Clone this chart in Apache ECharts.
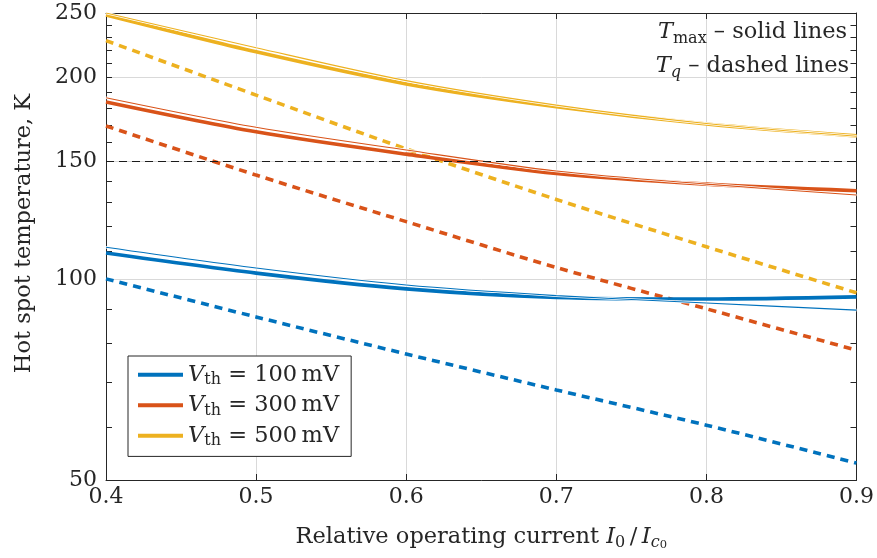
<!DOCTYPE html>
<html>
<head>
<meta charset="utf-8">
<script src="https://cdn.jsdelivr.net/npm/echarts@6/dist/echarts.min.js"></script>
<style>
  html, body { margin: 0; padding: 0; background: #fff; }
  #chart { width: 877px; height: 558px; }
</style>
</head>
<body>
<div id="chart"></div>
<script>
// Relative operating current I0/Ic0
const currents = [0.4, 0.5, 0.6, 0.7, 0.8, 0.9];

// Hot spot maximum temperature T_max (thick solid), K
const tmax100 = [109.3, 102.0, 96.6, 93.8, 93.3, 94.0];
const tmax300 = [184.0, 166.0, 153.7, 143.8, 138.6, 135.5];
const tmax500 = [248.3, 218.7, 195.8, 181.0, 170.5, 163.7];

// Companion T_max estimate (thin solid), K
const tmaxEst100 = [111.5, 103.8, 97.9, 94.4, 92.0, 89.8];
const tmaxEst300 = [186.7, 168.6, 155.9, 145.0, 138.6, 133.5];
const tmaxEst500 = [250.0, 221.8, 198.0, 182.0, 170.8, 163.5];

// Quench temperature T_q (dashed), K
const tq100 = [100.0, 87.7, 77.2, 68.2, 60.4, 53.0];
const tq300 = [169.4, 143.0, 121.8, 104.0, 90.2, 78.2];
const tq500 = [227.3, 188.4, 156.5, 131.5, 111.7, 95.3];

// Threshold voltages and their colours
const thresholds = [100, 300, 500];
const colors = ['#0072BD', '#D95319', '#EDB120'];

// Axis ticks
const xTicks = [0.4, 0.5, 0.6, 0.7, 0.8, 0.9];
const yLabels = [50, 100, 150, 200, 250];
const yTicks = [50, 60, 70, 80, 90, 100, 110, 120, 130, 140, 150, 160, 170, 180, 190, 200, 210, 220, 230, 240, 250];
const yGrid = [100, 150, 200];
const referenceTemp = 150;

const FONT = 'DejaVu Serif';
const INK = '#262626';
const FS = 22.5;   // main text size
const FSUB = 16;   // subscript size

const tmaxSets = [tmax100, tmax300, tmax500];
const estSets = [tmaxEst100, tmaxEst300, tmaxEst500];
const tqSets = [tq100, tq300, tq500];

const pairs = arr => currents.map((x, i) => [x, arr[i]]);
const legendName = v => 'Vth = ' + v + ' mV';

const series = [];
// dashed T_q curves
tqSets.forEach((arr, k) => {
  const s = {
    name: 'Tq ' + thresholds[k],
    type: 'line', data: pairs(arr), smooth: 0.3, showSymbol: false, symbol: 'none',
    lineStyle: { color: colors[k], width: 3.6, type: [8, 6], cap: 'butt' },
    itemStyle: { color: colors[k] }, silent: true
  };
  if (k === 0) {
    s.markLine = {
      silent: true, symbol: 'none', label: { show: false },
      lineStyle: { color: '#1a1a1a', width: 1, type: [8, 5] },
      data: [{ yAxis: referenceTemp }]
    };
  }
  series.push(s);
});
// thick solid T_max curves
tmaxSets.forEach((arr, k) => {
  series.push({
    name: legendName(thresholds[k]),
    type: 'line', data: pairs(arr), smooth: 0.3, showSymbol: false, symbol: 'none',
    lineStyle: { color: colors[k], width: 3.6 },
    itemStyle: { color: colors[k] }, silent: true
  });
});
// white halo beneath the thin curves
estSets.forEach((arr, k) => {
  series.push({
    name: 'halo ' + thresholds[k],
    type: 'line', data: pairs(arr), smooth: 0.3, showSymbol: false, symbol: 'none',
    lineStyle: { color: '#ffffff', width: 2.6 }, silent: true
  });
});
// thin solid T_max estimates
estSets.forEach((arr, k) => {
  series.push({
    name: 'est ' + thresholds[k],
    type: 'line', data: pairs(arr), smooth: 0.3, showSymbol: false, symbol: 'none',
    lineStyle: { color: colors[k], width: 1.1 },
    itemStyle: { color: colors[k] }, silent: true
  });
});

const baseY = {
  type: 'log', logBase: 10, min: 50, max: 250,
  axisLine: { show: false },
  axisLabel: { show: false },
  axisTick: { show: false },
  splitLine: { show: false }
};

const subRich = {
  r: { fontFamily: FONT, fontSize: FS, color: INK, lineHeight: 28 },
  i: { fontFamily: FONT, fontStyle: 'italic', fontSize: FS, color: INK, lineHeight: 28 },
  s: { fontFamily: FONT, fontSize: FSUB, color: INK, lineHeight: 16, verticalAlign: 'bottom' },
  si: { fontFamily: FONT, fontStyle: 'italic', fontSize: FSUB, color: INK, lineHeight: 16, verticalAlign: 'bottom' },
  ss: { fontFamily: FONT, fontSize: 11.5, color: INK, lineHeight: 7, verticalAlign: 'bottom' }
};
const graphicRich = {};
Object.keys(subRich).forEach(key => {
  const st = Object.assign({}, subRich[key]);
  st.fill = st.color; delete st.color;
  graphicRich[key] = st;
});

const chart = echarts.init(document.getElementById('chart'), null, { renderer: 'canvas' });
chart.setOption({
  animation: false,
  backgroundColor: '#ffffff',
  textStyle: { fontFamily: FONT, color: INK },
  grid: { left: 106, right: 18, top: 13, bottom: 78, containLabel: false },
  xAxis: [
    {
      type: 'value', min: 0.4, max: 0.9, interval: 0.1, position: 'bottom',
      axisLine: { show: true, lineStyle: { color: INK, width: 1 } },
      axisTick: { show: true, inside: true, length: 6, lineStyle: { color: INK } },
      axisLabel: { fontFamily: FONT, fontSize: 22, color: INK, margin: 6,
                   formatter: v => v.toFixed(1) },
      splitLine: { show: true, lineStyle: { color: '#d9d9d9', width: 1 } },
      name: '{r|Relative operating current }{i|I}{s|0}{r|\u2009/\u2009}{i|I}{si|c}{ss|0}',
      nameLocation: 'middle', nameGap: 43,
      nameTextStyle: { fontFamily: FONT, fontSize: FS, color: INK, rich: subRich }
    },
    {
      type: 'value', min: 0.4, max: 0.9, interval: 0.1, position: 'top',
      axisLine: { show: true, lineStyle: { color: INK, width: 1 } },
      axisTick: { show: true, inside: true, length: 6, lineStyle: { color: INK } },
      axisLabel: { show: false },
      splitLine: { show: false }
    }
  ],
  yAxis: [
    {
      type: 'log', logBase: 10, min: 50, max: 250, position: 'left',
      axisLine: { show: true, lineStyle: { color: INK, width: 1 } },
      axisTick: { show: true, inside: true, length: 6, customValues: yTicks, lineStyle: { color: INK } },
      axisLabel: { show: true, customValues: yLabels, fontFamily: FONT, fontSize: 22, color: INK, margin: 9,
                   formatter: v => String(Math.round(v)) },
      splitLine: { show: false },
      name: 'Hot spot temperature, K',
      nameLocation: 'middle', nameGap: 70, nameRotate: 90,
      nameTextStyle: { fontFamily: FONT, fontSize: FS, color: INK, padding: [0, 0, 0, 26] }
    },
    {
      type: 'log', logBase: 10, min: 50, max: 250, position: 'right',
      axisLine: { show: true, lineStyle: { color: INK, width: 1 } },
      axisTick: { show: true, inside: true, length: 6, customValues: yTicks, lineStyle: { color: INK } },
      axisLabel: { show: false },
      splitLine: { show: false }
    },
    Object.assign({}, baseY, {
      position: 'left',
      axisTick: { show: false, customValues: yGrid },
      splitLine: { show: true, lineStyle: { color: '#d9d9d9', width: 1 } }
    })
  ],
  legend: {
    data: thresholds.map(legendName),
    orient: 'vertical',
    left: 128, top: 356,
    padding: [7.2, 12, 7.2, 10],
    itemGap: 5.5,
    itemWidth: 45, itemHeight: 4,
    itemTextGap: 8,
    icon: 'rect',
    backgroundColor: '#ffffff',
    borderColor: INK, borderWidth: 1, borderRadius: 0,
    selectedMode: false,
    formatter: name => {
      const v = name.match(/(\d+) mV/)[1];
      return '{i|V}{s|th}{r| = ' + v + '\u2009mV}';
    },
    textStyle: {
      fontFamily: FONT, fontSize: FS, color: INK,
      rich: {
        i: { fontFamily: FONT, fontStyle: 'italic', fontSize: FS, color: INK, lineHeight: 27 },
        s: { fontFamily: FONT, fontSize: FSUB, color: INK, lineHeight: 16, verticalAlign: 'bottom' },
        r: { fontFamily: FONT, fontSize: FS, color: INK, lineHeight: 27 }
      }
    }
  },
  graphic: [
    {
      type: 'text', right: 30, top: 21, z: 100,
      style: { text: '{i|T}{s|max}{r| \u2013 solid lines}', align: 'right', rich: graphicRich }
    },
    {
      type: 'text', right: 28, top: 55, z: 100,
      style: { text: '{i|T}{si|q}{r| \u2013 dashed lines}', align: 'right', rich: graphicRich }
    }
  ],
  series: series
});
</script>
</body>
</html>
